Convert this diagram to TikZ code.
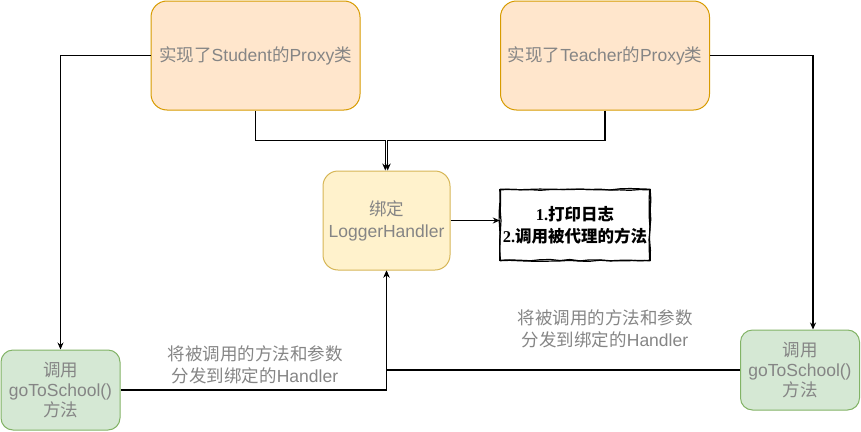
\documentclass[tikz,border=0pt]{standalone}
\usepackage{fontspec}
\setmainfont{Liberation Sans}
\newfontfamily\cjk{Noto Sans CJK SC}
\newfontfamily\serifd{Liberation Serif}
\usetikzlibrary{arrows.meta,decorations.pathmorphing}
\definecolor{orfill}{HTML}{FFE6CC}
\definecolor{ordraw}{HTML}{D79B00}
\definecolor{yefill}{HTML}{FFF2CC}
\definecolor{yedraw}{HTML}{D6B656}
\definecolor{grfill}{HTML}{D5E8D4}
\definecolor{grdraw}{HTML}{82B366}
\definecolor{txtgray}{HTML}{858585}
\newcommand\zh[1]{{\cjk #1}}
\tikzset{
  basebox/.style={draw, line width=1pt, align=center, inner sep=0pt, text=txtgray},
  proxybox/.style={basebox, fill=orfill, draw=ordraw, minimum width=209pt, minimum height=109pt, rounded corners=16pt},
  handlerbox/.style={basebox, fill=yefill, draw=yedraw, minimum width=127pt, minimum height=99pt, rounded corners=15pt},
  callbox/.style={basebox, fill=grfill, draw=grdraw, minimum width=119pt, minimum height=80pt, rounded corners=12pt, font=\fontsize{17.5}{20}\selectfont},
  notebox/.style={align=center, inner sep=0pt, minimum width=150pt, minimum height=70pt, font=\fontsize{16.5}{22}\selectfont\bfseries},
  sketch/.style={draw=black, line width=1.2pt, decorate, decoration={random steps, segment length=10pt, amplitude=0.7pt}},
  conn/.style={draw=black, line width=1.1pt},
  arr/.style={conn, -{Stealth[length=7pt,width=6pt]}},
  lbl/.style={text=txtgray, align=center, inner sep=0pt, font=\fontsize{17.5}{22}\selectfont}
}
\begin{document}
\begin{tikzpicture}[x=1pt,y=-1pt,font=\fontsize{17.5}{22}\selectfont]
\useasboundingbox (0,0) rectangle (861,431);
\pgfmathsetseed{7}
\node[proxybox] (stu) at (255.5,55.5) {\zh{实现了}Student\zh{的}Proxy\zh{类}};
\node[proxybox] (tea) at (605,55.5) {\zh{实现了}Teacher\zh{的}Proxy\zh{类}};
\node[handlerbox] (log) at (386.5,220.5) {\zh{绑定}\\LoggerHandler};
\node[notebox] (nt) at (575,225) {{\serifd 1.}\zh{打印日志}\\{\serifd 2.}\zh{调用被代理的方法}};
\draw[sketch] (nt.south west) rectangle (nt.north east);
\draw[sketch] ([shift={(0.6,0.5)}]nt.south west) rectangle ([shift={(-0.5,-0.6)}]nt.north east);
\node[callbox] (gl) at (60.5,390) {\zh{调用}\\goToSchool()\\\zh{方法}};
\node[callbox] (gr) at (800,370) {\zh{调用}\\goToSchool()\\\zh{方法}};

\draw[arr] (stu.south) -- ++(0,30) -| ([xshift=-1.2pt]log.north);
\draw[arr] (tea.south) -- ++(0,30) -| ([xshift=1.2pt]log.north);
\draw[arr] (stu.west) -| (gl.north);
\draw[arr] (tea.east) -| ([xshift=13pt]gr.north);
\draw[arr] (log.east) -- (log.east -| nt.west);
\draw[arr] (gl.east) -| (log.south);
\draw[arr] (gr.west) -| (log.south);

\node[lbl] (l1) at (255,365) {\zh{将被调用的方法和参数}\\\zh{分发到绑定的}Handler};
\node[lbl] (l2) at (605,329) {\zh{将被调用的方法和参数}\\\zh{分发到绑定的}Handler};
\end{tikzpicture}
\end{document}
